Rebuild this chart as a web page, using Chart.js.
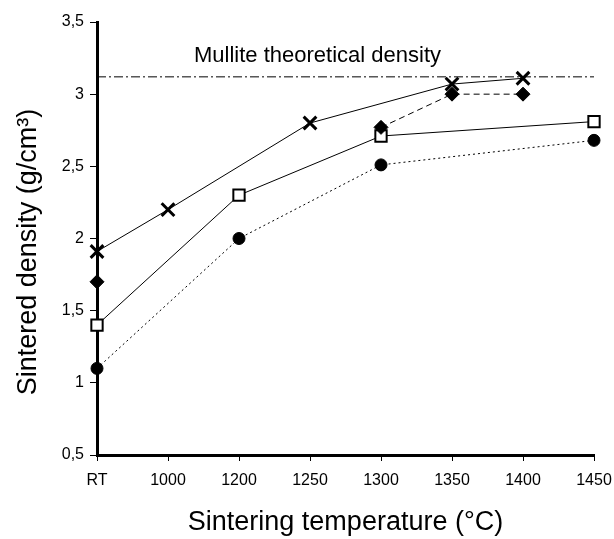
<!DOCTYPE html>
<html>
<head>
<meta charset="utf-8">
<script src="https://cdn.jsdelivr.net/npm/chart.js"></script>
<style>
  html, body { margin: 0; padding: 0; background: #fff; }
  #wrap { width: 614px; height: 539px; }
</style>
</head>
<body>
<div id="wrap"><canvas id="grafico" width="614" height="539"></canvas></div>
<script>
// categorias del eje x
const temperaturas = ["RT", "1000", "1200", "1250", "1300", "1350", "1400", "1450"];

// series (null = sin medida)
const serieCruz = [1.91, 2.2, null, 2.8, null, 3.07, 3.11, null];
const serieRombo = [1.7, null, null, null, 2.77, 3.0, 3.0, null];
const serieCuadrado = [1.4, null, 2.3, null, 2.71, null, null, 2.81];
const serieCirculo = [1.1, null, 2.0, null, 2.51, null, null, 2.68];

// densidad teorica de la mullita
const densidadTeorica = 3.12;
const lineaTeorica = temperaturas.map(() => densidadTeorica);

const yTicks = [0.5, 1, 1.5, 2, 2.5, 3, 3.5];

const FUENTE = "'Liberation Sans', Arial, sans-serif";

// textos: "Mullite theoretical density" y titulo del eje y
const textos = {
  id: "textos",
  afterDraw(chart) {
    const ctx = chart.ctx;
    const y = chart.scales.y.getPixelForValue(densidadTeorica);
    ctx.save();
    ctx.fillStyle = "#000";
    ctx.font = "22px " + FUENTE;
    ctx.textBaseline = "alphabetic";
    ctx.fillText("Mullite theoretical density", chart.chartArea.left + 97, y - 15);

    // titulo eje y, girado
    ctx.translate(29, 252);
    ctx.rotate(-Math.PI / 2);
    ctx.font = "27px " + FUENTE;
    ctx.textAlign = "center";
    ctx.textBaseline = "middle";
    ctx.fillText("Sintered density (g/cm³)", 0, 0);
    ctx.restore();
  },
};

const ctx = document.getElementById("grafico").getContext("2d");
new Chart(ctx, {
  type: "line",
  data: {
    labels: temperaturas,
    datasets: [
      {
        label: "theoretical",
        data: lineaTeorica,
        borderColor: "#000",
        borderWidth: 1,
        borderDash: [9, 3, 2, 3],
        pointRadius: 0,
        order: 5,
      },
      {
        label: "cruz",
        data: serieCruz,
        borderColor: "#000",
        borderWidth: 1,
        spanGaps: true,
        pointStyle: "crossRot",
        pointRadius: 9,
        pointBorderWidth: 3,
        pointBorderColor: "#000",
      },
      {
        label: "rombo",
        data: serieRombo,
        borderColor: "#000",
        borderWidth: 1,
        borderDash: [6, 4],
        spanGaps: false,
        pointStyle: "rectRot",
        pointRadius: 7,
        pointBackgroundColor: "#000",
        pointBorderColor: "#000",
        pointBorderWidth: 1,
      },
      {
        label: "cuadrado",
        data: serieCuadrado,
        borderColor: "#000",
        borderWidth: 1,
        spanGaps: true,
        pointStyle: "rect",
        pointRadius: 8,
        pointBackgroundColor: "#fff",
        pointBorderColor: "#000",
        pointBorderWidth: 2,
      },
      {
        label: "circulo",
        data: serieCirculo,
        borderColor: "#000",
        borderWidth: 1,
        borderDash: [2, 3],
        spanGaps: true,
        pointStyle: "circle",
        pointRadius: 6,
        pointBackgroundColor: "#000",
        pointBorderColor: "#000",
        pointBorderWidth: 1,
      },
    ],
  },
  options: {
    responsive: false,
    animation: false,
    layout: { padding: { top: 22, right: 0, bottom: 0, left: 0 } },
    plugins: {
      legend: { display: false },
      tooltip: { enabled: false },
    },
    scales: {
      x: {
        type: "category",
        offset: false,
        grid: { drawOnChartArea: false, drawTicks: true, tickLength: 6, color: "#000" },
        border: { display: true, color: "#000", width: 3 },
        ticks: {
          color: "#000",
          font: { family: FUENTE, size: 16 },
          padding: 10,
          maxRotation: 0,
          autoSkip: false,
        },
        title: {
          display: true,
          text: "Sintering temperature (°C)",
          color: "#000",
          font: { family: FUENTE, size: 27 },
          padding: { top: 0, bottom: 0 },
        },
        afterFit(scale) {
          scale.height = 84;
          scale.paddingRight = 20;
          scale.paddingLeft = 0;
        },
      },
      y: {
        min: 0.5,
        max: 3.5,
        afterBuildTicks(scale) {
          scale.ticks = yTicks.map((v) => ({ value: v }));
        },
        grid: { drawOnChartArea: false, drawTicks: true, tickLength: 7, color: "#000" },
        border: { display: true, color: "#000", width: 3 },
        ticks: {
          color: "#000",
          font: { family: FUENTE, size: 16 },
          padding: 6,
          callback: (v) => String(v).replace(".", ","),
        },
        afterFit(scale) {
          scale.width = 97;
        },
      },
    },
  },
  plugins: [textos],
});
</script>
</body>
</html>
